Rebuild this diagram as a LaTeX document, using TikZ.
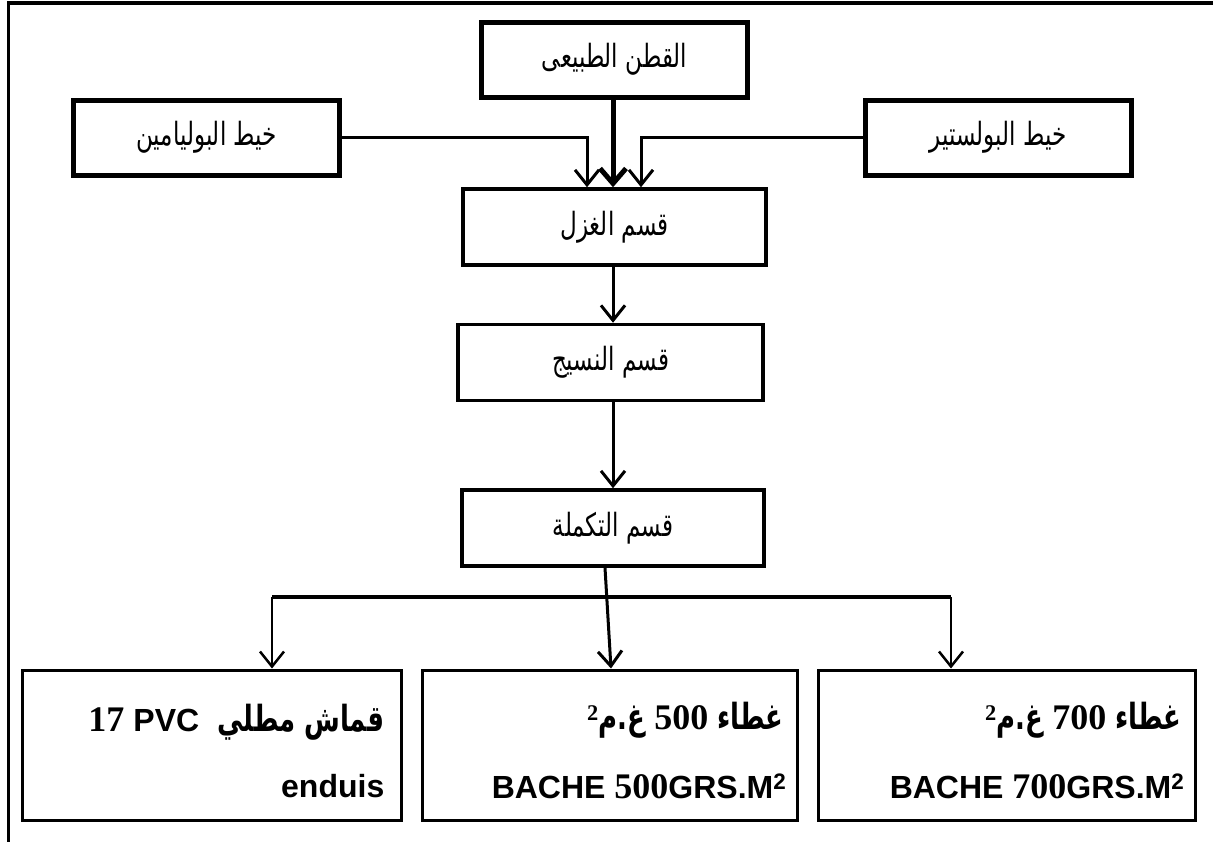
\documentclass[tikz,border=0pt]{standalone}
\usepackage{fontspec}
\usetikzlibrary{arrows.meta}
\TeXXeTstate=1
\newfontfamily\arabicfont[Script=Arabic, FakeStretch=0.72]{DejaVu Sans}
\newfontfamily\arabicbold[Script=Arabic, FakeStretch=0.72]{DejaVu Sans}
\newfontfamily\latinsans{Liberation Sans}
\newfontfamily\latinserif{Liberation Serif}
\newcommand{\serifdigits}[1]{{\latinserif\fontsize{36}{40}\selectfont #1}}

\tikzset{
  outline/.style={line width=3.5pt, line cap=rect},
  srcbox/.style={draw, line width=5pt, minimum width=266pt, minimum height=75pt,
    inner sep=0pt, font=\arabicfont\fontsize{32}{36}\selectfont},
  stagebox/.style={draw, line width=3.5pt, minimum width=303pt, minimum height=76pt,
    inner sep=0pt, font=\arabicfont\fontsize{32}{36}\selectfont},
  outbox/.style={draw, line width=3pt, minimum height=150pt, inner sep=0pt},
  boxline/.style={anchor=east, inner sep=0pt, font=\fontsize{32}{36}\selectfont\bfseries},
  arabicline/.style={boxline, font=\arabicbold\fontsize{36}{40}\selectfont\bfseries},
  arr/.style={line width=3pt, -{Straight Barb[length=15pt,width=24pt,line width=3pt]}},
  thickarr/.style={line width=5pt, -{Straight Barb[length=15pt,width=26pt,line width=5pt]}},
  bar/.style={line width=4pt},
  drop/.style={line width=2.5pt, -{Straight Barb[length=15pt,width=24pt,line width=2.5pt]}}
}

\begin{document}
\begin{tikzpicture}[x=1pt, y=-1pt]
\useasboundingbox (0,0) rectangle (1213,841);

% page frame: top rule and left rule
\draw[outline] (8.5,3) -- (1213,3);
\draw[outline] (8.5,3) -- (8.5,841);

% raw materials
\node[srcbox] (cotton) at (614.5,59.5) {\beginR القطن الطبيعى\endR};
\node[srcbox] (polyamide) at (206.5,137.5) {\beginR خيط البوليامين\endR};
\node[srcbox] (polyester) at (998,137.5) {\beginR خيط البولستير\endR};

% production departments
\node[stagebox] (spinning) at (614.5,227) {\beginR قسم الغزل\endR};
\node[stagebox, minimum width=305pt] (weaving) at (610.5,362.5) {\beginR قسم النسيج\endR};
\node[stagebox, minimum width=302pt] (finishing) at (613,528) {\beginR قسم التكملة\endR};

% products
\node[outbox, minimum width=379pt] (pvc) at (211.5,745) {};
\node[outbox, minimum width=375pt] (bache5) at (609.5,745) {};
\node[outbox, minimum width=377pt] (bache7) at (1006.5,745) {};

\node[arabicline] (pvcA) at ([xshift=-18pt]pvc.east |- 0,722)
  {\beginR قماش مطلي\ \ \beginL{\latinsans\fontsize{32}{36}\selectfont PVC}\endL{} \beginL\serifdigits{17}\endL\endR};
\node[boxline] (pvcB) at ([xshift=-18pt]pvc.east |- 0,786) {\latinsans enduis};

\node[arabicline] (bache5A) at ([xshift=-15pt]bache5.east |- 0,720)
  {\beginR غطاء \beginL\serifdigits{500}\endL{} غ.م{\latinserif\fontsize{32}{36}\selectfont\textsuperscript{2}}\endR};
\node[boxline] (bache5B) at ([xshift=-12pt]bache5.east |- 0,786)
  {\latinsans BACHE \serifdigits{500}GRS.M\textsuperscript{2}};

\node[arabicline] (bache7A) at ([xshift=-15pt]bache7.east |- 0,720)
  {\beginR غطاء \beginL\serifdigits{700}\endL{} غ.م{\latinserif\fontsize{32}{36}\selectfont\textsuperscript{2}}\endR};
\node[boxline] (bache7B) at ([xshift=-12pt]bache7.east |- 0,786)
  {\latinsans BACHE \serifdigits{700}GRS.M\textsuperscript{2}};

% inputs into spinning
\draw[thickarr] ([xshift=-1.5pt]cotton.south) -- ([xshift=-1.5pt]spinning.north);
\draw[arr] (polyamide.east) -| ([xshift=-27.5pt]spinning.north);
\draw[arr] (polyester.west) -| ([xshift=26.5pt]spinning.north);

% main flow
\draw[arr] ([xshift=-1.5pt]spinning.south) -- ([xshift=-1.5pt]spinning.south |- weaving.north);
\draw[arr] ([xshift=2.5pt]weaving.south) -- ([xshift=2.5pt]weaving.south |- finishing.north);

% distribution to the products
\coordinate (barL) at (272,597);
\coordinate (barR) at (951,597);
\draw[bar] (barL) -- (barR);
\draw[arr] ([xshift=-8pt]finishing.south) -- ([xshift=1.5pt]bache5.north);
\draw[drop] (barL) -- (barL |- pvc.north);
\draw[drop] (barR) -- (barR |- bache7.north);
\end{tikzpicture}
\end{document}
